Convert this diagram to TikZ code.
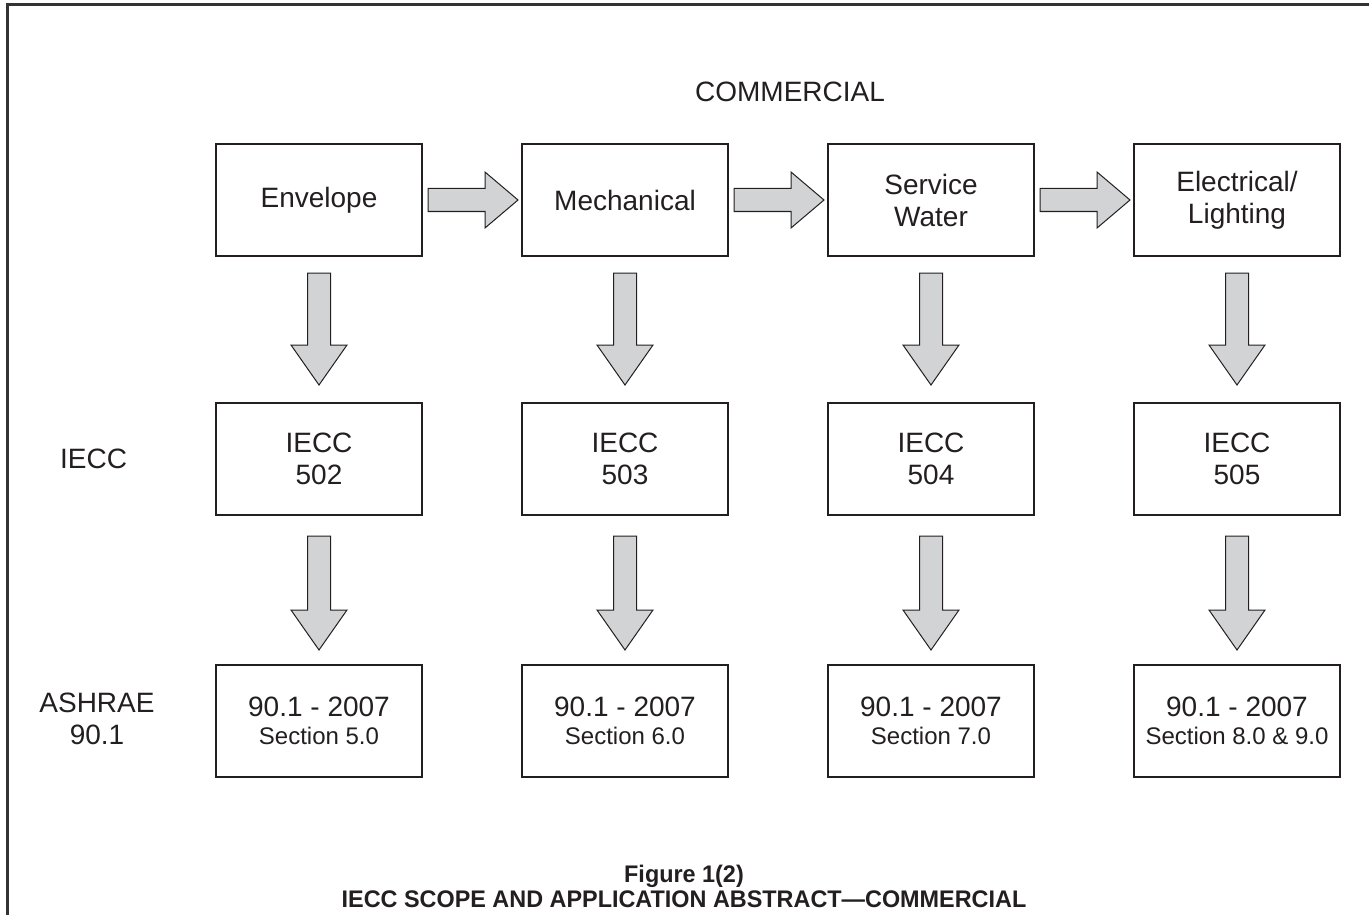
\documentclass[tikz,border=0pt]{standalone}
\usepackage{fontspec}
\setmainfont{Liberation Sans}
\newfontfamily\capfont[FakeStretch=0.975]{Liberation Sans}
\usetikzlibrary{calc,positioning}
\definecolor{ink}{HTML}{231F20}
\definecolor{framegray}{HTML}{333333}
\definecolor{arrowgray}{HTML}{D1D3D4}
\newcommand{\bigtxt}{\fontsize{28}{32}\selectfont}
\newcommand{\smltxt}{\fontsize{24}{27}\selectfont}
\tikzset{
  fatarrow/.style args={(#1) to (#2) by #3}{
    insert path={
    let
    \p1=(#1),
    \p2=(#2),
    \p3=($(#2)!#3!(#1)$),
    \n1={atan2(\y2-\y1,\x2-\x1)}
      in
      ($(\p1)+(\n1+90:11.5pt)$) -- ($(\p3)+(\n1+90:11.5pt)$)
      -- ($(\p3)+(\n1+90:28pt)$) -- (\p2)
      -- ($(\p3)+(\n1-90:28pt)$) -- ($(\p3)+(\n1-90:11.5pt)$)
      -- ($(\p1)+(\n1-90:11.5pt)$) -- cycle
    }
  },
  blk/.style={draw=ink,line width=1.2pt,fill=white,text=ink,align=center,
    minimum width=206pt,minimum height=112pt,outer sep=0pt,font=\bigtxt},
  lbl/.style={text=ink,font=\bigtxt,inner sep=0pt},
  capt/.style={text=ink,font=\capfont\bfseries\fontsize{24}{26}\selectfont,inner sep=0pt},
  arr/.style={draw=ink,line width=1pt,fill=arrowgray,line join=miter}
}
\begin{document}
\begin{tikzpicture}[x=1pt,y=-1pt]
  \useasboundingbox (0,0) rectangle (1369,915);
  \draw[line width=3pt,draw=framegray] (7,915) -- (7,5) -- (1369,5);

  \node [lbl] (comm) at (790,92) {COMMERCIAL};

  \node [blk] (env) at (319,200) {Envelope};
  \node [blk,right=100pt of env] (mech) {Mechanical};
  \node [blk,right=100pt of mech] (water) {Service\\Water};
  \node [blk,right=100pt of water] (elec) {Electrical/\\Lighting};

  \node [blk,below=147pt of env] (i502) {IECC\\502};
  \node [blk,below=147pt of mech] (i503) {IECC\\503};
  \node [blk,below=147pt of water] (i504) {IECC\\504};
  \node [blk,below=147pt of elec] (i505) {IECC\\505};

  \node [blk,below=150pt of i502] (s5) {90.1 - 2007\\[-4pt]{\smltxt Section 5.0}};
  \node [blk,below=150pt of i503] (s6) {90.1 - 2007\\[-4pt]{\smltxt Section 6.0}};
  \node [blk,below=150pt of i504] (s7) {90.1 - 2007\\[-4pt]{\smltxt Section 7.0}};
  \node [blk,below=150pt of i505] (s89) {90.1 - 2007\\[-4pt]{\smltxt Section 8.0 \& 9.0}};

  \node [lbl,anchor=west] (ieccl) at (60,459) {IECC};
  \node [lbl,align=center] (ashl) at (97,719) {ASHRAE\\90.1};

  \path[arr,fatarrow={([xshift=6pt]env.east) to ([xshift=-4pt]mech.west) by 33pt}];
  \path[arr,fatarrow={([xshift=6pt]mech.east) to ([xshift=-4pt]water.west) by 33pt}];
  \path[arr,fatarrow={([xshift=6pt]water.east) to ([xshift=-4pt]elec.west) by 33pt}];

  \path[arr,fatarrow={([yshift=-17pt]env.south) to ([yshift=18pt]i502.north) by 40pt}];
  \path[arr,fatarrow={([yshift=-17pt]mech.south) to ([yshift=18pt]i503.north) by 40pt}];
  \path[arr,fatarrow={([yshift=-17pt]water.south) to ([yshift=18pt]i504.north) by 40pt}];
  \path[arr,fatarrow={([yshift=-17pt]elec.south) to ([yshift=18pt]i505.north) by 40pt}];

  \path[arr,fatarrow={([yshift=-21pt]i502.south) to ([yshift=15pt]s5.north) by 40pt}];
  \path[arr,fatarrow={([yshift=-21pt]i503.south) to ([yshift=15pt]s6.north) by 40pt}];
  \path[arr,fatarrow={([yshift=-21pt]i504.south) to ([yshift=15pt]s7.north) by 40pt}];
  \path[arr,fatarrow={([yshift=-21pt]i505.south) to ([yshift=15pt]s89.north) by 40pt}];

  \node [capt] (fig) at (684,876) {Figure 1(2)};
  \node [capt] (figt) at (684,899) {IECC SCOPE AND APPLICATION ABSTRACT—COMMERCIAL};
\end{tikzpicture}
\end{document}
